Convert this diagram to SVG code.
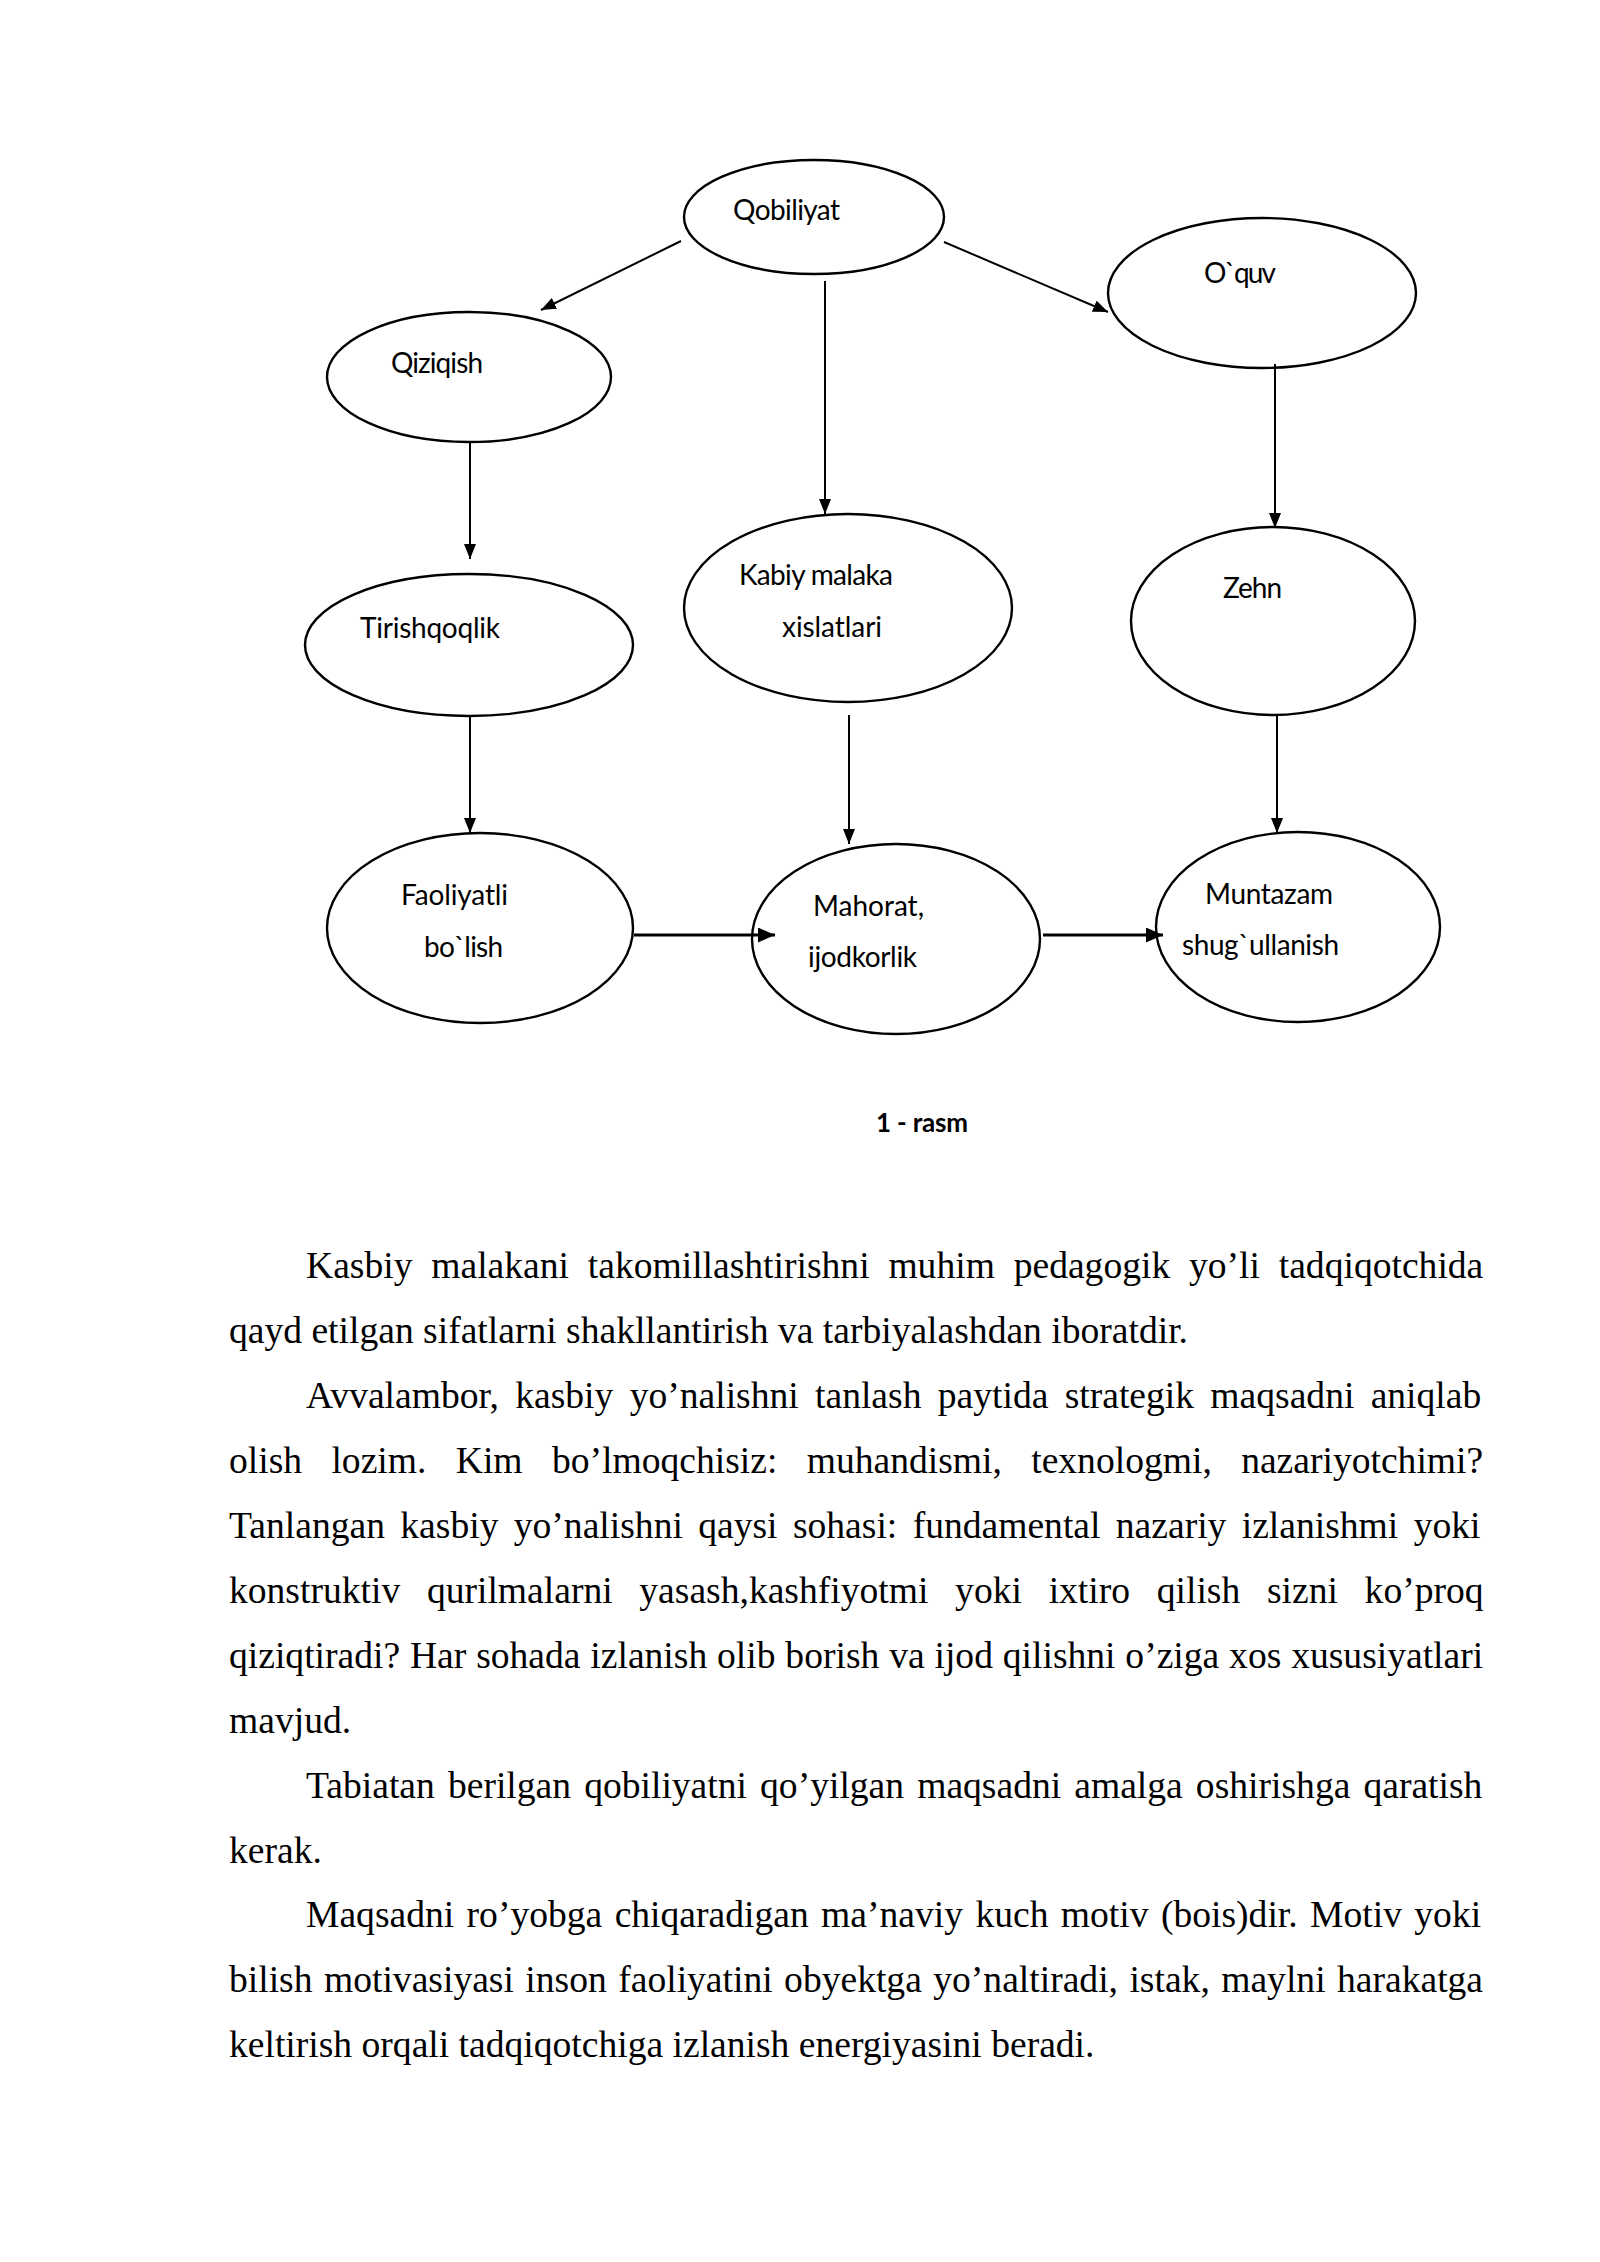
<svg xmlns="http://www.w3.org/2000/svg" width="1600" height="2262" viewBox="0 0 1600 2262">
<style>
.node{fill:none;stroke:#000;stroke-width:2.4}
.lbl{font-family:Lato,"Open Sans","DejaVu Sans",sans-serif;font-size:28px;fill:#000}
.cap{font-family:Lato,"Open Sans","DejaVu Sans",sans-serif;font-size:26px;font-weight:bold;fill:#000}
.ln{stroke:#000;stroke-width:2;fill:none}
.lnb{stroke:#000;stroke-width:2.8;fill:none}
.body{font-family:"Liberation Serif","Times New Roman",serif;font-size:37.6px;fill:#000}
</style>
<defs>
<marker id="ah" markerUnits="userSpaceOnUse" markerWidth="16" markerHeight="12" refX="15" refY="6" orient="auto">
<path d="M0,0 L15,6 L0,12 z" fill="#000"/>
</marker>
<marker id="ahb" markerUnits="userSpaceOnUse" markerWidth="18" markerHeight="16" refX="17" refY="7.5" orient="auto">
<path d="M0,0 L17,7.5 L0,15 z" fill="#000"/>
</marker>
</defs>
<rect width="1600" height="2262" fill="#fff"/>

<g id="connectors">
<line class="ln" x1="681" y1="241" x2="541" y2="310" marker-end="url(#ah)"/>
<line class="ln" x1="944" y1="242" x2="1108" y2="312" marker-end="url(#ah)"/>
<line class="ln" x1="825" y1="281" x2="825" y2="514" marker-end="url(#ah)"/>
<line class="ln" x1="470" y1="443" x2="470" y2="559" marker-end="url(#ah)"/>
<line class="ln" x1="1275" y1="364" x2="1275" y2="528" marker-end="url(#ah)"/>
<line class="ln" x1="470" y1="716" x2="470" y2="833" marker-end="url(#ah)"/>
<line class="ln" x1="849" y1="715" x2="849" y2="844" marker-end="url(#ah)"/>
<line class="ln" x1="1277" y1="716" x2="1277" y2="833" marker-end="url(#ah)"/>
<line class="lnb" x1="634" y1="935" x2="775" y2="935" marker-end="url(#ahb)"/>
<line class="lnb" x1="1043" y1="935" x2="1163" y2="935" marker-end="url(#ahb)"/>
</g>

<g id="n-qobiliyat"><ellipse class="node" cx="814" cy="217" rx="130" ry="57"/><text class="lbl" x="733" y="220" textLength="107">Qobiliyat</text></g>
<g id="n-qiziqish"><ellipse class="node" cx="469" cy="377" rx="142" ry="65"/><text class="lbl" x="391" y="373" textLength="92">Qiziqish</text></g>
<g id="n-oquv"><ellipse class="node" cx="1262" cy="293" rx="154" ry="75"/><text class="lbl" x="1204" y="283" textLength="72">O`quv</text></g>
<g id="n-tirishqoqlik"><ellipse class="node" cx="469" cy="645" rx="164" ry="71"/><text class="lbl" x="360" y="638" textLength="140">Tirishqoqlik</text></g>
<g id="n-kabiy"><ellipse class="node" cx="848" cy="608" rx="164" ry="94"/><text class="lbl" x="739" y="585" textLength="154">Kabiy malaka</text><text class="lbl" x="782" y="637" textLength="100">xislatlari</text></g>
<g id="n-zehn"><ellipse class="node" cx="1273" cy="621" rx="142" ry="94"/><text class="lbl" x="1223" y="598" textLength="59">Zehn</text></g>
<g id="n-faoliyatli"><ellipse class="node" cx="480" cy="928" rx="153" ry="95"/><text class="lbl" x="401" y="905" textLength="107">Faoliyatli</text><text class="lbl" x="424" y="957" textLength="79">bo`lish</text></g>
<g id="n-mahorat"><ellipse class="node" cx="896" cy="939" rx="144" ry="95"/><text class="lbl" x="813" y="916" textLength="111">Mahorat,</text><text class="lbl" x="808" y="967" textLength="109">ijodkorlik</text></g>
<g id="n-muntazam"><ellipse class="node" cx="1298" cy="927" rx="142" ry="95"/><text class="lbl" x="1205" y="904" textLength="128">Muntazam</text><text class="lbl" x="1182" y="955" textLength="157">shug`ullanish</text></g>

<g id="caption"><text class="cap" x="876" y="1132" textLength="92">1 - rasm</text></g>

<g id="body">
<text class="body" x="306" y="1278" word-spacing="9.4">Kasbiy malakani takomillashtirishni muhim pedagogik yo’li tadqiqotchida</text>
<text class="body" x="229" y="1343">qayd etilgan sifatlarni shakllantirish va tarbiyalashdan iboratdir.</text>
<text class="body" x="306" y="1408" word-spacing="6.9">Avvalambor, kasbiy yo’nalishni tanlash paytida strategik maqsadni aniqlab</text>
<text class="body" x="229" y="1473" word-spacing="19.95">olish lozim. Kim bo’lmoqchisiz: muhandismi, texnologmi, nazariyotchimi?</text>
<text class="body" x="229" y="1538" word-spacing="5.96">Tanlangan kasbiy yo’nalishni qaysi sohasi: fundamental nazariy izlanishmi yoki</text>
<text class="body" x="229" y="1603" word-spacing="17.3">konstruktiv qurilmalarni yasash,kashfiyotmi yoki ixtiro qilish sizni ko’proq</text>
<text class="body" x="229" y="1668" word-spacing="0.45">qiziqtiradi? Har sohada izlanish olib borish va ijod qilishni o’ziga xos xususiyatlari</text>
<text class="body" x="229" y="1733">mavjud.</text>
<text class="body" x="306" y="1798" word-spacing="3.7">Tabiatan berilgan qobiliyatni qo’yilgan maqsadni amalga oshirishga qaratish</text>
<text class="body" x="229" y="1863">kerak.</text>
<text class="body" x="306" y="1927" word-spacing="3.0">Maqsadni ro’yobga chiqaradigan ma’naviy kuch motiv (bois)dir. Motiv yoki</text>
<text class="body" x="229" y="1992" word-spacing="2.04">bilish motivasiyasi inson faoliyatini obyektga yo’naltiradi, istak, maylni harakatga</text>
<text class="body" x="229" y="2057">keltirish orqali tadqiqotchiga izlanish energiyasini beradi.</text>
</g>
</svg>
